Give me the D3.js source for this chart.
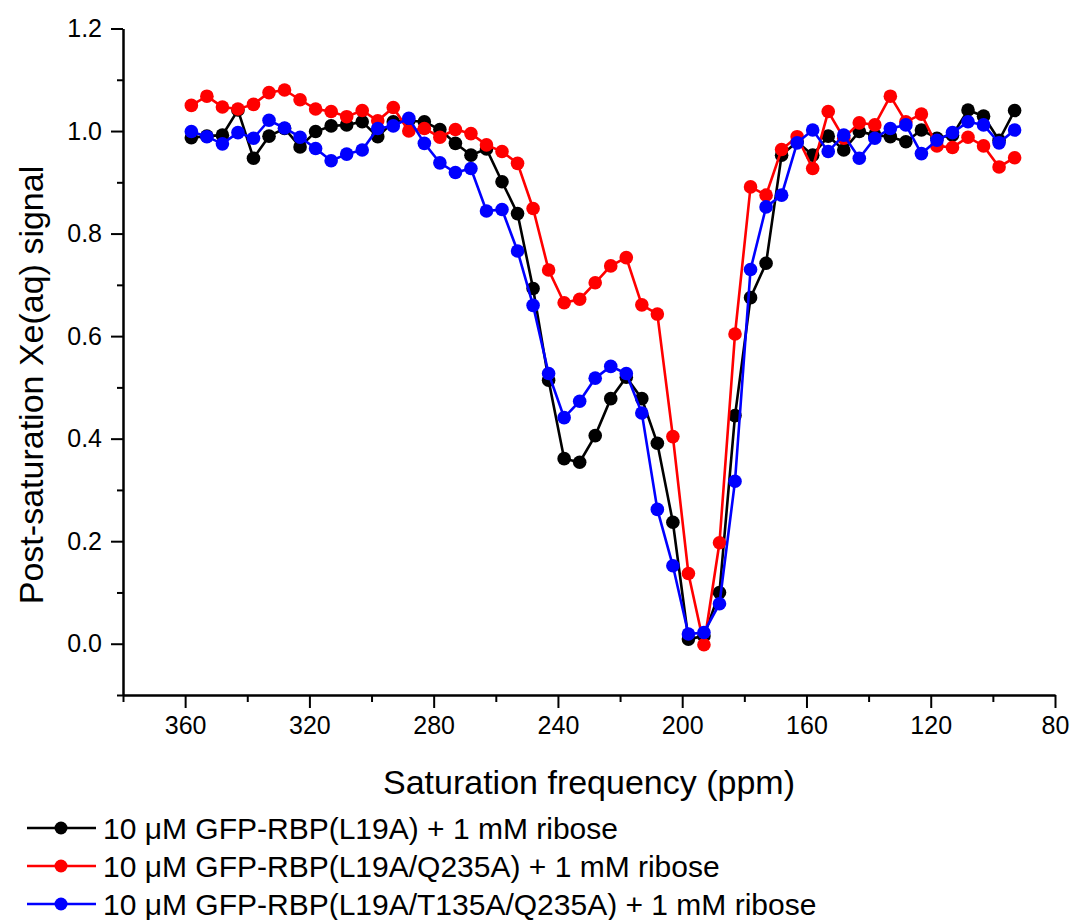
<!DOCTYPE html>
<html>
<head>
<meta charset="utf-8">
<script src="https://cdn.jsdelivr.net/npm/d3@7/dist/d3.min.js"></script>
<style>
  html, body { margin: 0; padding: 0; background: #fff; }
  svg { display: block; font-family: "Liberation Sans", Arial, sans-serif; }
</style>
</head>
<body>
<svg id="chart" width="1076" height="920"></svg>
<script>
// ---- data ----
const frequencies = d3.range(54).map(i => 358 - 5 * i); // 358 ... 93 ppm (5 ppm steps)

const seriesNames = [
  "10 \u03bcM GFP-RBP(L19A) + 1 mM ribose",
  "10 \u03bcM GFP-RBP(L19A/Q235A) + 1 mM ribose",
  "10 \u03bcM GFP-RBP(L19A/T135A/Q235A) + 1 mM ribose"
];
const seriesColors = ["#000000", "#ff0000", "#0000ff"];

const blackValues = [
  0.987, 0.990, 0.992, 1.041, 0.947, 0.990, 1.005, 0.969, 0.999, 1.010,
  1.012, 1.018, 0.989, 1.018, 1.020, 1.018, 1.003, 0.976, 0.953, 0.965,
  0.901, 0.839, 0.693, 0.514, 0.361, 0.354, 0.406, 0.478, 0.520, 0.478,
  0.391, 0.237, 0.009, 0.015, 0.100, 0.445, 0.675, 0.742, 0.953, 0.979,
  0.953, 0.990, 0.963, 0.999, 0.992, 0.989, 0.979, 1.002, 0.986, 0.992,
  1.041, 1.029, 0.982, 1.040
];
const redValues = [
  1.050, 1.068, 1.047, 1.043, 1.052, 1.075, 1.080, 1.061, 1.043, 1.038,
  1.028, 1.040, 1.020, 1.046, 1.000, 1.005, 0.988, 1.003, 0.995, 0.973,
  0.960, 0.937, 0.849, 0.729, 0.665, 0.672, 0.704, 0.737, 0.753, 0.661,
  0.643, 0.404, 0.137, -0.002, 0.197, 0.604, 0.891, 0.875, 0.964, 0.989,
  0.927, 1.038, 0.986, 1.016, 1.012, 1.068, 1.018, 1.033, 0.971, 0.968,
  0.988, 0.971, 0.930, 0.948
];
const blueValues = [
  0.999, 0.989, 0.975, 0.997, 0.986, 1.021, 1.006, 0.988, 0.966, 0.942,
  0.955, 0.963, 1.005, 1.010, 1.025, 0.976, 0.938, 0.919, 0.927, 0.844,
  0.847, 0.766, 0.660, 0.527, 0.441, 0.473, 0.518, 0.541, 0.527, 0.450,
  0.262, 0.152, 0.019, 0.022, 0.078, 0.317, 0.730, 0.852, 0.875, 0.977,
  1.002, 0.960, 0.992, 0.947, 0.986, 1.005, 1.012, 0.956, 0.982, 0.997,
  1.018, 1.012, 0.977, 1.002
];

const xMajorTicks = [360, 320, 280, 240, 200, 160, 120, 80];
const xMinorTicks = [380, 340, 300, 260, 220, 180, 140, 100];
const yMajorTicks = [0.0, 0.2, 0.4, 0.6, 0.8, 1.0, 1.2];
const yMinorTicks = [-0.1, 0.1, 0.3, 0.5, 0.7, 0.9, 1.1];

const xTitle = "Saturation frequency (ppm)";
const yTitle = "Post-saturation Xe(aq) signal";

// ---- layout ----
const svg = d3.select("#chart");
const plotLeft = 123, plotRight = 1055, plotTop = 28.5, plotBottom = 695;

const x = d3.scaleLinear().domain([380, 80]).range([plotLeft, plotRight]);
const y = d3.scaleLinear().domain([-0.1, 1.2]).range([plotBottom, plotTop]);

const allSeries = [blackValues, redValues, blueValues].map((vals, k) => ({
  name: seriesNames[k],
  color: seriesColors[k],
  points: vals.map((v, i) => ({ f: frequencies[i], v }))
}));

// axes
const axisFont = 25;
const xAxisMajor = svg.append("g")
  .attr("transform", `translate(0,${plotBottom})`)
  .call(d3.axisBottom(x).tickValues(xMajorTicks).tickSize(13).tickSizeOuter(0).tickPadding(8)
        .tickFormat(d3.format("d")));
const xAxisMinor = svg.append("g")
  .attr("transform", `translate(0,${plotBottom})`)
  .call(d3.axisBottom(x).tickValues(xMinorTicks).tickSize(7).tickSizeOuter(0).tickFormat(""));
const yAxisMajor = svg.append("g")
  .attr("transform", `translate(${plotLeft},0)`)
  .call(d3.axisLeft(y).tickValues(yMajorTicks).tickSize(12).tickSizeOuter(0).tickPadding(9)
        .tickFormat(d3.format(".1f")));
const yAxisMinor = svg.append("g")
  .attr("transform", `translate(${plotLeft},0)`)
  .call(d3.axisLeft(y).tickValues(yMinorTicks).tickSize(6).tickSizeOuter(0).tickFormat(""));

[xAxisMajor, xAxisMinor, yAxisMajor, yAxisMinor].forEach(g => {
  g.selectAll("path.domain").attr("stroke", "#000").attr("stroke-width", 2);
  g.selectAll(".tick line").attr("stroke", "#000").attr("stroke-width", 2);
  g.selectAll(".tick text")
    .attr("fill", "#000")
    .style("font-size", axisFont + "px")
    .style("font-family", "'Liberation Sans', Arial, sans-serif");
});

// axis titles
svg.append("text")
  .attr("x", (plotLeft + plotRight) / 2).attr("y", 794)
  .attr("text-anchor", "middle")
  .style("font-size", "34px")
  .text(xTitle);
svg.append("text")
  .attr("transform", `translate(43,${385}) rotate(-90)`)
  .attr("text-anchor", "middle")
  .style("font-size", "34px")
  .text(yTitle);

// series
const line = d3.line().x(d => x(d.f)).y(d => y(d.v));
const marks = svg.append("g");
allSeries.forEach(s => {
  marks.append("path")
    .datum(s.points)
    .attr("fill", "none")
    .attr("stroke", s.color)
    .attr("stroke-width", 2.6)
    .attr("d", line);
  marks.selectAll(null)
    .data(s.points)
    .enter().append("circle")
    .attr("cx", d => x(d.f))
    .attr("cy", d => y(d.v))
    .attr("r", 6.8)
    .attr("fill", s.color);
});

// legend
const legend = svg.append("g");
const legendY = [828, 866, 904];
allSeries.forEach((s, k) => {
  const row = legend.append("g").attr("transform", `translate(0,${legendY[k]})`);
  row.append("line").attr("x1", 27).attr("x2", 96).attr("y1", 0).attr("y2", 0)
    .attr("stroke", s.color).attr("stroke-width", 2.6);
  row.append("circle").attr("cx", 61).attr("cy", 0).attr("r", 6.5).attr("fill", s.color);
  row.append("text").attr("x", 103).attr("y", 0).attr("dy", "0.36em")
    .style("font-size", "30px").text(s.name);
});
</script>
</body>
</html>
